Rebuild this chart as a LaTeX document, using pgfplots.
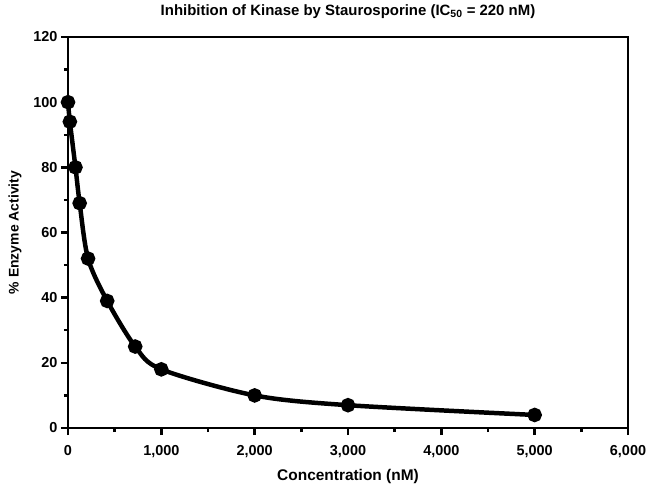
\documentclass[border=0pt]{standalone}
\usepackage{pgfplots}
\pgfplotsset{compat=1.18}
\usepackage{fontspec}
\setmainfont{Liberation Sans}
\begin{document}
\begin{tikzpicture}
\begin{axis}[
  scale only axis,
  width=560bp, height=391bp,
  xmin=0, xmax=6000, ymin=0, ymax=120,
  xtick={0,1000,...,6000},
  minor xtick={500,1500,...,5500},
  ytick={0,20,...,120},
  minor ytick={10,30,...,110},
  xticklabels={0,{1,000},{2,000},{3,000},{4,000},{5,000},{6,000}},
  tick align=outside,
  tick pos=left,
  major tick length=7bp,
  minor tick length=4bp,
  every tick/.style={line width=2.5pt,black},
  axis line style={line width=3pt},
  /pgf/number format/assume math mode=true,
  ticklabel style={font=\bfseries\fontsize{14.5}{16}\selectfont},
  xticklabel style={yshift=-7bp},
  title={\bfseries Inhibition of Kinase by Staurosporine (IC$_{\mathbf{50}}$ = 220 nM)},
  title style={font=\bfseries\fontsize{15}{17}\selectfont, yshift=9bp},
  xlabel={\bfseries Concentration (nM)},
  ylabel={\bfseries \% Enzyme Activity},
  xlabel style={font=\bfseries\fontsize{15.5}{17}\selectfont, yshift=-5bp},
  ylabel style={font=\bfseries\fontsize{14}{16}\selectfont, yshift=5bp},
  clip=false,
]
\coordinate (SW) at (rel axis cs:0,0);
\coordinate (NE) at (rel axis cs:1,1);
\addplot[black, line width=4.5pt, smooth, tension=0.5, mark=*, mark size=5pt] coordinates {
(0,100) (20,94) (80,80) (125,69) (215,52) (420,39) (720,25) (1000,18) (2000,10) (3000,7) (5000,4)
};
\end{axis}
\pgfresetboundingbox
\useasboundingbox ([xshift=-68bp,yshift=-65bp]SW) rectangle ([xshift=22bp,yshift=37bp]NE);
\end{tikzpicture}
\end{document}
